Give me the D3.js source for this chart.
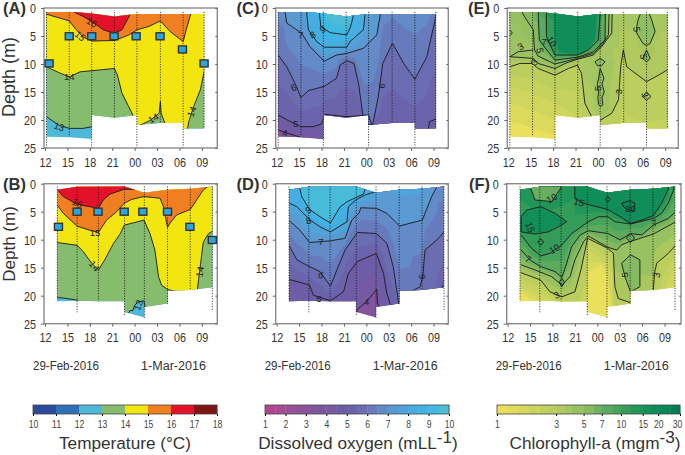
<!DOCTYPE html>
<html>
<head>
<meta charset="utf-8">
<script src="https://cdnjs.cloudflare.com/ajax/libs/d3/7.8.5/d3.min.js"></script>
<style>
body { margin: 0; background: #fff; }
text { font-family: "Liberation Sans", Arial, sans-serif; fill: #333; }
</style>
</head>
<body>
<svg id="chart" width="685" height="455"></svg>
<script>
// hours run on from 12 (00 = 24, 09 = 33)
var hourTicks = [12, 15, 18, 21, 24, 27, 30, 33];
var depthTicks = [0, 5, 10, 15, 20, 25];

// cast times and how far each dotted line goes
var stationsAE = [12.2, 15.25, 18.25, 21.3, 24.3, 27.45, 30.5, 33.3];
var stationEndAE = [25, 23, 25, 19.5, 25, 20.5, 25, 21.5];
var stationsBF = [13.65, 16.3, 19.15, 22.65, 25.3, 28.4, 31.45, 34.4];
var stationEndBF = [21, 23, 21, 23.5, 24, 21.5, 19, 22.5];

// sampled water column outline, [hour, depth]
var topAE = [[12.2, .7], [16, .7], [18.25, 1], [21.3, 1.5], [23.3, 1.2], [24.3, 1.05], [33.3, 1.05]];
var bottomAE = [[12.2, 23], [15.25, 23.1], [18.25, 23.4], [18.25, 19.1], [21.3, 19.6], [24.3, 19.1], [24.3, 20.9], [27.45, 20.55], [30.5, 20.55], [30.5, 21.5], [33.3, 21.5]];
var topBF = [[13.65, 1.1], [16.3, .55], [22.65, .5], [25.3, 1.6], [28.4, 1.1], [31.45, .9], [34.4, .5]];
var bottomBF = [[13.65, 21], [16.3, 20.9], [19.15, 21], [22.65, 21], [22.65, 22.9], [25.3, 23.9], [25.3, 22], [28.4, 21.4], [28.4, 19.1], [31.45, 19], [34.4, 18.5]];

// thermistor squares, [hour, depth]
var loggersA = [[12.55, 9.9], [15.25, 5.05], [18.25, 5.05], [21.25, 5.05], [24.2, 5.05], [27.4, 5.05], [30.4, 7.4], [33.3, 9.9]];
var loggersB = [[13.8, 7.7], [16.3, 5], [19.1, 5], [22.6, 5], [25.1, 5], [28.4, 5], [31.4, 7.7], [34.4, 10.05]];

// temperature contours, panel A
var a13 = [[12.2, 19.4], [13.8, 20.9], [15.25, 21.5], [17.1, 21.5], [18.25, 21.2], [18.7, 22.4], [20, 30]];
var a14 = [[12.2, 10.5], [13.8, 11.5], [15.25, 12.3], [16.7, 11.4], [18.25, 11.2], [21.3, 10.8], [21.7, 12], [22.3, 15.2], [23.2, 17.6], [23.75, 19.1], [24.3, 21.2], [26.05, 20.1], [27, 19.1], [27.3, 18.7], [27.45, 16.7], [27.55, 18.8], [28.05, 20.6], [29.2, 22.4], [31, 22.1], [31.25, 20.3], [31.9, 17.6], [32.8, 14.6], [33.3, 11.4], [33.9, 7.5]];
var a15 = [[11.8, 1], [12.2, 1.1], [15.25, 2.3], [16, 3.6], [17.1, 5.2], [18.25, 5.9], [21.3, 5.8], [22.5, 5.2], [23.4, 4.7], [24.3, 3.9], [25.9, 3.3], [27.45, 2.3], [28.75, 4.2], [30.5, 6], [30.9, 3.9], [31.5, 1.1], [31.9, -.2], [35, -3]];
var a16 = [[12, -3], [14.9, -.5], [16, .8], [17.1, 1.5], [18.25, 2.4], [19.8, 3.9], [21.3, 4.5], [22.3, 3.9], [23.3, 1.4], [23.6, -.2], [24, -3]];

// temperature contours, panel B
var b13 = [[13.65, 20.3], [14.9, 20.5], [16.3, 20.8], [16.8, 21.4], [17.3, 26], [22, 26], [23.4, 22.6], [23.75, 22.7], [24, 21.7], [24.5, 21.1], [25.25, 20.9], [25.4, 22.1], [25.6, 26]];
var b14 = [[13.65, 10.5], [16.3, 11], [17.1, 12.1], [18.25, 14.2], [19.15, 15.4], [20, 13.6], [21.15, 10.7], [22.1, 8.9], [22.6, 7.4], [23.8, 7], [25.25, 6.5], [26.05, 8.9], [26.7, 11.8], [27.2, 16.6], [27.6, 18.1], [28.4, 18.9], [29.75, 19.3], [32.2, 19.5], [32.4, 18.9], [33, 12.4], [33.2, 10.4], [33.9, 8.9], [34.4, 8.5]];
var b15 = [[13.65, 3.8], [14.45, 5.3], [16.3, 7.6], [18, 8.3], [19.15, 8.7], [20.25, 6.5], [21.6, 5], [22.6, 3.5], [23.6, 2.8], [25.25, 2.3], [27.4, 2.6], [27.85, 4.1], [28.4, 7.8], [28.7, 7.1], [29.6, 5.6], [31.45, 4.6], [32.3, 2.9], [33.2, 1.1], [33.9, .4], [34.4, -.1]];
var b16 = [[13.6, 1], [14.45, 2.3], [16.3, 3.7], [19.15, 4.4], [19.8, 2.9], [20.7, 1.85], [22.6, 1], [24, 1], [25, -.3], [26, -3]];

// dissolved oxygen contours, panel C
var c4 = [[12.2, 21.8], [13.55, 22.4], [15.25, 23.1], [16.9, 23.9], [18.5, 28], [35, 28]];
var c5 = [[12.2, 19.1], [13.55, 20.1], [15.25, 21.2], [16.9, 21.2], [18, 20.7], [18.45, 19], [21.4, 19.4], [24.3, 19.1], [24.7, 20.7], [25.4, 22.4], [31.65, 22.4], [32.3, 21.7], [32.45, 20.3], [33.35, 19.8]];
var c6 = [[12.2, 8.4], [13.35, 10.5], [14.45, 13.45], [15.25, 16], [16.25, 14.75], [18.35, 14], [20, 12.55], [20.5, 10.2], [21.4, 9.4], [22.35, 9.9], [22.95, 13.45], [23.5, 18.8], [23.85, 20.6], [24.85, 20.9], [25.6, 15.8], [26.2, 9.9], [27.5, 6.3], [29, 9.9], [30.5, 12.7], [32.1, 8.7], [33.35, 1.25], [33.65, -.2]];
var c7 = [[13, -3], [13.1, .65], [13.35, 2.7], [15.35, 4.5], [16.45, 6.9], [18.35, 9.5], [20, 8.4], [21.4, 8.1], [23.6, 7.2], [25.4, 4.8], [25.9, .95], [26.1, -3]];
var c8 = [[15.8, -3], [16, .65], [16.25, 3.9], [17.35, 6], [18.35, 7], [21.4, 7], [21.8, 6], [23.6, 3.9], [23.85, .95], [24, -3]];
var c9 = [[17.3, -3], [17.7, .65], [17.9, 3.3], [19.15, 4.4], [21.4, 4.8], [21.9, 3.3], [22.35, .95], [22.6, -3]];
var c95 = [[18.3, -3], [18.5, .4], [19.15, 2.1], [21.4, 3.2], [21.9, 2.1], [22.3, .4], [22.5, -3]];

// dissolved oxygen contours, panel D
var d4 = [[22, 28], [22.8, 22.45], [24.05, 21.05], [25.4, 18.85], [25.5, 21.35], [25.75, 22.25], [26, 28]];
var d5 = [[13.7, 17.1], [16.4, 18.1], [16.9, 19.9], [19.2, 20.9], [20.95, 19.3], [21.6, 16], [22.8, 13.9], [25.35, 12.45], [26.3, 16], [26.75, 19.6], [27.25, 21.65], [28.05, 23.15], [29, 28], [33, 28], [33.65, 22.55], [34.25, 18.1]];
var d6 = [[13.7, 11.1], [14.7, 13.6], [16.4, 14.8], [17.8, 15.7], [19.2, 18.3], [20.05, 15.4], [21.15, 11.85], [22.8, 8.7], [25.35, 8.9], [26.75, 10.65], [27.6, 14.8], [28.2, 20.2], [28.5, 23.15], [29.85, 22.55], [30.2, 19.1], [31.2, 18.4], [31.55, 16.6], [31.85, 11.85], [33.45, 10.05], [34.4, 8.6]];
var d7 = [[13.7, 6.6], [15.1, 8.3], [16.4, 10.5], [19.2, 10.2], [21.15, 9.75], [22.05, 6.5], [23.05, 5.2], [23.25, 4.3], [25.35, 4.4], [26.75, 5.3], [28.45, 7.55], [31.5, 6.5], [32.75, 2.3], [33.45, .55], [33.6, -3]];
var d8 = [[13.7, 3.5], [14.7, 4.1], [16.4, 6.4], [17.8, 7.7], [19.2, 8.6], [21.4, 6.8], [21.6, 4.1], [22.7, 2.8], [23.85, 2], [25.3, 1.4], [25.85, .5], [26, -3]];
var d9 = [[14.9, -3], [15.05, .55], [15.35, 2.3], [16.4, 4.6], [17.8, 5.9], [19.2, 7], [20.5, 4.1], [21.45, 3.2], [23.6, 1.85], [23.85, .85], [24, -3]];

// chlorophyll contours, panel E (solid lines)
var e3 = [[12.2, 10.5], [13.55, 9.9], [15.2, 9.9], [16, 10.8], [18.25, 12], [20.05, 10.8], [21.25, 10.2], [21.8, 11.65], [22.25, 17], [23.15, 19.4], [24.25, 20.1], [25.85, 18.8], [26.75, 16.4], [27.05, 10.5], [27.4, 7.5], [27.85, 10.5], [30.5, 13.15], [32.1, 12], [33.3, 11.05]];
var e4 = [[12.2, 8.7], [15.35, 9], [16, 9.9], [18.25, 10.8], [19.6, 9.9], [21.25, 9.15], [23.4, 8.4], [24.5, 6.9], [25.85, 4.5], [25.9, .95], [26, -3]];
var e5 = [[13.7, -3], [13.8, .65], [14.45, 2.15], [15.35, 3.9], [15.5, 7.5], [16, 8.6], [18.25, 10], [21.25, 9], [23.4, 8.1], [24.6, 6.5], [25.4, 4.8], [25.5, .95], [25.6, -3]];
var e7 = [[15.9, -3], [16, .95], [16.15, 5.7], [17.15, 7.5], [18.25, 9.3], [21.25, 8.8], [23.4, 7.8], [24.95, 5.7], [25, .95], [25.1, -3]];
var e10 = [[16.9, -3], [17.1, .95], [17.1, 5.1], [18.25, 8.4], [21.25, 8.4], [22.7, 7.5], [24.05, 5.7], [24.3, .95], [24.4, -3]];
// shade limits that carry no line
var e13 = [[12.2, 20.3], [13.35, 20.5], [15.2, 21.5], [18.25, 22.7], [19, 28]];
var e2 = [[12.2, 14], [15.2, 15.25], [18.25, 17], [21.25, 19.4], [22, 28], [35, 28]];
var e15 = [[18, -3], [18.1, .9], [18.2, 5], [18.8, 7.8], [21.25, 8.3], [22.7, 7.3], [23.7, 5], [23.8, .9], [24, -3]];

// closed patches in E
var eColumnOuter = [[23, 9], [25.5, 9], [26.3, 9], [25.7, 13], [25.5, 18], [24.4, 19.8], [23.5, 18], [23.3, 14]];
var eTopRightOuter = [[28.6, 1], [29, 5], [30, 9], [30.5, 11], [31, 9], [32.3, 5], [32, 1]];
var eLens = [[29.2, 3.3], [29.2, 4.5], [30, 6.3], [30.5, 6.7], [31, 6.3], [31.65, 4.2], [31.2, 2.15], [30.8, .8], [29.75, .8], [29.4, 2]];
var eChainTop = [[30.5, 7.5], [31, 9], [30.5, 9.6], [30, 9]];
var eDiamondLow = [[30.5, 15], [31.1, 15.8], [30.5, 16.5], [30, 15.8]];
var eDiamondMid = [[23.6, 9.6], [24.3, 9], [24.95, 9.6], [24.5, 10.3], [23.95, 10.3]];
var eColumn = [[24.3, 10.8], [24.8, 12.5], [24.55, 13.6], [24.85, 15], [24.55, 16], [24.65, 17.3], [24.4, 17.6], [24.1, 17.3], [24, 16], [24.1, 15], [23.9, 13.6], [24.1, 12.5]];
var eWedge = [[12.2, 8.7], [13.35, 7.8], [15.35, 7.5]];
var eNick = [[12.2, 3.9], [12.55, 4.5], [12.2, 4.9]];

// chlorophyll contours, panel F
var f3 = [[13.8, 15.9], [16.4, 17.2], [17.65, 19.3], [19.25, 20.2], [21, 19.3], [21.8, 15.4], [22.7, 9.75], [25.4, 11.55], [26.15, 12.45], [26.35, 18.4], [26.8, 20.5], [28.45, 21.25], [31.3, 24], [31.5, 19], [31.65, 16], [31.95, 14.2], [33.5, 12.45], [34.5, 10.95]];
var f5 = [[13.8, 14.5], [15.65, 15.4], [17.9, 16.6], [19.25, 18.1], [20.35, 16.6], [21, 13.6], [22.15, 10.35], [22.8, 9.35], [25.4, 11.35], [26.6, 11.85], [27.25, 10.9], [28.45, 10.3], [31.5, 9], [34.5, 6.8]];
var f7 = [[13.8, 11.85], [15, 13.65], [16.4, 14.8], [18.35, 15.7], [19.25, 16.7], [19.9, 14.2], [20.55, 11.25], [21.7, 9.15], [22.8, 8.4], [25.4, 8.9], [27.05, 10.05], [28.45, 8.9], [29.95, 9.15], [31.5, 7.4], [33.5, 6.2], [34.5, 5]];
var f10 = [[13.8, 9.15], [15.2, 11.55], [16.4, 12.9], [17.65, 12.45], [19.25, 10.95], [20.55, 8.9], [22.8, 6.8], [24.15, 5.9], [25.4, 5.9], [26.35, 6.8], [28.45, 7.2], [31.5, 6.2], [32.6, 5.3], [33.5, 3.5], [34.2, 1.1], [34.4, -3]];
var f15 = [[20.95, -3], [21, 2.6], [22.15, 3.5], [25.4, 4.6], [27.2, 6], [28.45, 7.1], [29.95, 6.5], [31.5, 5.7], [32.6, 3.5], [33.5, 1], [33.7, -3]];
var f13 = [[13.8, 19.5], [16, 21.5], [16.5, 28], [22.6, 28], [22.75, 16], [24.5, 14.5], [25.4, 17], [25.7, 22], [26, 28]];
var f2 = [[13.8, 18.1], [16.4, 19.6], [18.35, 21], [19, 28], [22.5, 24], [22.75, 12], [24, 13], [25.4, 14.5], [26, 16], [26.1, 22], [26.2, 28], [31.9, 28], [33, 19], [34.5, 14]];
var fBlobLeft = [[13.8, 5.9], [14.55, 4.7], [16.4, 4.1], [18.35, 5.3], [19.9, 6.8], [18.8, 7.7], [17.45, 8.6], [15.65, 9], [13.8, 8.6]];
var fDeep = [[27.25, 3.5], [28.4, 3], [29.05, 3.5], [28.85, 5], [27.7, 4.4]];
var fPale = [[15, .5], [15.65, 2.9], [17.9, 3.2], [19.25, .5]];
var fLens = [[27.25, 14.2], [28.45, 12.7], [29.7, 13.6], [29.7, 18.4], [28.45, 19.3], [27.7, 16.6]];
var fDiamondA = [[16.4, 9.8], [16.8, 10.4], [16.4, 11], [16, 10.4]];
var fDiamondB = [[28.45, 8.9], [29, 9.7], [28.45, 10.5], [27.9, 9.7]];
var fDiamondC = [[19.25, 16.9], [19.6, 17.6], [19.25, 18.4], [18.9, 17.6]];
var fDiamondD = [[25.4, 2.3], [25.7, 2.8], [25.4, 3.3], [25.1, 2.8]];

// colour bars
var tempTicks = [10, 11, 12, 13, 14, 15, 16, 17, 18];
var tempColors = ["#2b4a9b", "#3070b8", "#4db8d8", "#86bc6e", "#f2e510", "#f07f21", "#e5112a", "#7e1416"];
var oxyTicks = [1, 2, 3, 4, 5, 6, 7, 8, 9, 10];
var oxyColors = ["#b3458f", "#9f4f94", "#8a539b", "#7a57a1", "#6b5ea7", "#6a72b6", "#5f93cc", "#49a9df", "#3bb7e5", "#55bfcf"];
var chlTicks = [1, 3, 5, 7, 10, 15, 20, 30];
var chlColors = ["#f0e25c", "#b6cc5e", "#90bf62", "#68ae60", "#3fa05a", "#189357", "#0a8a5a", "#007a54"];
var chlCells = [1, 1.2, 1.5, 1.8, 2.2, 2.6, 3, 3.5, 4, 5, 6, 7, 8.5, 10, 12, 15, 17.5, 20, 25, 30];

var tempColor = d3.scaleThreshold().domain(tempTicks.slice(1, -1)).range(tempColors);
var oxyColor = d3.scaleLinear().domain(oxyTicks).range(oxyColors);
var chlColor = d3.scaleLog().domain(chlTicks).range(chlColors);

var svg = d3.select("#chart");
var line = d3.line();

// the reference type is narrow, so squeeze tick text to its width
function squeeze(sel, perChar) {
    sel.attr("textLength", function() { return this.textContent.length * perChar; })
        .attr("lengthAdjust", "spacingAndGlyphs");
}

function drawPanel(p) {
    var x = d3.scaleLinear().domain([12, 35]).range([p.x12, p.x12 + 171.8]);
    var y = d3.scaleLinear().domain([0, 25]).range([p.y0, p.y0 + 140]);
    var g = svg.append("g");
    var toXY = function(d) { return [x(d[0]), y(d[1])]; };

    // outline of sampled water, also the clip for everything inside it
    var outline = p.top.concat(p.bottom.slice().reverse());
    g.append("clipPath").attr("id", "clip" + p.name)
        .append("path").attr("d", line(outline.map(toXY)) + "Z");
    var inside = g.append("g").attr("clip-path", "url(#clip" + p.name + ")");
    inside.append("rect").attr("x", p.x12 - 5).attr("y", p.y0 - 5)
        .attr("width", 190).attr("height", 150).attr("fill", p.color(p.base));

    // shading between neighbouring contours
    var fillArea = d3.area().x(function(d) { return x(d[0]); })
        .y0(y(-6)).y1(function(d) { return y(d[1]); });
    var levels = p.lines.concat(p.shades).sort(function(a, b) { return a.level - b.level; });
    levels.forEach(function(l, i) {
        var next = levels[i + 1];
        var upper = next ? next.level : l.level + (l.level - levels[i - 1].level);
        var n = next ? p.sub : 1;
        for (var k = 0; k < n; k++) {
            var pts = l.pts;
            if (k > 0) {
                var hrs = d3.merge([l.pts, next.pts]).map(function(d) { return d[0]; }).sort(d3.ascending);
                var s0 = d3.scaleLinear().domain(l.pts.map(function(d) { return d[0]; })).range(l.pts.map(function(d) { return d[1]; })).clamp(true);
                var s1 = d3.scaleLinear().domain(next.pts.map(function(d) { return d[0]; })).range(next.pts.map(function(d) { return d[1]; })).clamp(true);
                pts = hrs.map(function(h) { return [h, s0(h) + (s1(h) - s0(h)) * k / n]; });
            }
            var v = l.level + (upper - l.level) * (k + 0.5) / n;
            var first = pts[0], last = pts[pts.length - 1];
            inside.append("path")
                .attr("d", fillArea([[5, first[1]]].concat(pts, [[40, last[1]]])))
                .attr("fill", p.color(v));
        }
    });

    (p.patches || []).forEach(function(b) {
        inside.append("path").attr("d", line(b.pts.map(toXY)) + "Z")
            .attr("fill", p.color(b.level))
            .attr("stroke", b.stroke ? "#1a1a1a" : "none").attr("stroke-width", 0.9);
    });

    p.lines.forEach(function(l) {
        inside.append("path").attr("d", line(l.pts.map(toXY)))
            .attr("fill", "none").attr("stroke", "#1a1a1a").attr("stroke-width", 0.9);
    });
    (p.extra || []).forEach(function(pts) {
        inside.append("path").attr("d", line(pts.map(toXY)))
            .attr("fill", "none").attr("stroke", "#1a1a1a").attr("stroke-width", 0.9);
    });

    p.labels.forEach(function(t) {
        g.append("text").text(t[0])
            .attr("transform", "translate(" + x(t[1]) + "," + y(t[2]) + ") rotate(" + t[3] + ")")
            .attr("text-anchor", "middle").attr("dy", "0.35em")
            .attr("font-size", 9.5).style("fill", "#222");
    });

    // stations
    p.stations.forEach(function(h, i) {
        g.append("line").attr("x1", x(h)).attr("x2", x(h))
            .attr("y1", y(p.stationTop)).attr("y2", y(p.stationEnd[i]))
            .attr("stroke", "#111").attr("stroke-width", 0.9).attr("stroke-dasharray", "1,1.6");
    });

    // frame and axes
    g.append("rect").attr("x", p.x12 - 1).attr("y", p.y0)
        .attr("width", p.right - p.x12 + 1).attr("height", 140)
        .attr("fill", "none").attr("stroke", "#8a8a8a").attr("stroke-width", 1.4);
    var xAxis = g.append("g").attr("transform", "translate(0," + (p.y0 + 140) + ")")
        .call(d3.axisBottom(x).tickValues(hourTicks).tickSize(3).tickPadding(6)
            .tickFormat(function(h) { return d3.format("02")(h % 24); }));
    var yAxis = g.append("g").attr("transform", "translate(" + (p.x12 - 1) + ",0)")
        .call(d3.axisLeft(y).tickValues(depthTicks).tickSize(3).tickPadding(5));
    var yRight = g.append("g").attr("transform", "translate(" + p.right + ",0)")
        .call(d3.axisLeft(y).tickValues(depthTicks).tickSize(2).tickFormat(""));
    [xAxis, yAxis, yRight].forEach(function(a) {
        a.select(".domain").remove();
        a.selectAll("line").attr("stroke", "#666");
        a.selectAll("text").attr("font-size", 13.5).style("fill", "#333")
            .style("font-family", "'Liberation Sans', Arial, sans-serif")
            .call(squeeze, 6);
    });

    g.append("text").text("(" + p.name + ")")
        .attr("x", p.tagX).attr("y", p.y0 + 6).attr("font-size", 16.5).attr("font-weight", "bold");

    if (p.loggers) {
        g.selectAll(".logger").data(p.loggers).enter().append("rect")
            .attr("x", function(d) { return x(d[0]) - 4; })
            .attr("y", function(d) { return y(d[1]) - 3.5; })
            .attr("width", 8).attr("height", 7)
            .attr("fill", "#2ba6de").attr("stroke", "#333").attr("stroke-width", 1.4);
    }
    if (p.ylabel) {
        g.append("text").text("Depth (m)")
            .attr("transform", "translate(15," + p.ylabel[0] + ") rotate(-90)")
            .attr("text-anchor", "middle").attr("font-size", p.ylabel[1]);
    }
    if (p.dates) {
        g.append("text").text("29-Feb-2016").attr("x", p.x12 + 21).attr("y", 370)
            .attr("text-anchor", "middle").attr("font-size", 12.5)
            .attr("textLength", 66).attr("lengthAdjust", "spacingAndGlyphs");
        g.append("text").text("1-Mar-2016").attr("x", p.x12 + 128.5).attr("y", 370)
            .attr("text-anchor", "middle").attr("font-size", 12.5)
            .attr("textLength", 65).attr("lengthAdjust", "spacingAndGlyphs");
    }
}

function levelSet(levels, arrays) {
    return levels.map(function(l, i) { return { level: l, pts: arrays[i] }; });
}

drawPanel({ name: "A", x12: 45, y0: 8, right: 217.3, tagX: 3, ylabel: [77, 18], stationTop: .7,
    stations: stationsAE, stationEnd: stationEndAE, top: topAE, bottom: bottomAE, loggers: loggersA,
    color: tempColor, base: 12.5, sub: 1, shades: [],
    lines: levelSet([13, 14, 15, 16], [a13, a14, a15, a16]),
    labels: [["16", 18.25, 2.6, 30], ["15", 16.7, 5, 40], ["14", 15.25, 12.3, 0], ["13", 13.9, 21.2, 20], ["14", 26.5, 19.7, -30], ["14", 31.65, 18.5, -70]] });

drawPanel({ name: "B", x12: 45, y0: 183.7, right: 217.3, tagX: 3, ylabel: [244, 17], dates: true, stationTop: .5,
    stations: stationsBF, stationEnd: stationEndBF, top: topBF, bottom: bottomBF, loggers: loggersB,
    color: tempColor, base: 12.5, sub: 1, shades: [],
    lines: levelSet([13, 14, 15, 16], [b13, b14, b15, b16]),
    labels: [["16", 16.3, 3.5, 25], ["15", 18.7, 8.7, 0], ["14", 18.6, 14.7, 50], ["13", 24.5, 21.7, -70], ["14", 32.75, 15.7, -80]] });

drawPanel({ name: "C", x12: 276.7, y0: 8, right: 448.3, tagX: 236.5, stationTop: .7,
    stations: stationsAE, stationEnd: stationEndAE, top: topAE, bottom: bottomAE,
    color: oxyColor, base: 3.5, sub: 2,
    lines: levelSet([4, 5, 6, 7, 8, 9], [c4, c5, c6, c7, c8, c9]),
    shades: levelSet([9.5], [c95]),
    labels: [["9", 18.15, 3.8, -30], ["8", 16.8, 4.8, -30], ["7", 15.2, 4.8, 0], ["6", 14.25, 14.2, -20], ["6", 26.05, 13.9, -90], ["5", 14.55, 20.6, 0], ["4", 13.1, 22.3, 0]] });

drawPanel({ name: "D", x12: 276.7, y0: 183.7, right: 448.3, tagX: 236.5, dates: true, stationTop: .5,
    stations: stationsBF, stationEnd: stationEndBF, top: topBF, bottom: bottomBF,
    color: oxyColor, base: 3.5, sub: 2,
    lines: levelSet([4, 5, 6, 7, 8, 9], [d4, d5, d6, d7, d8, d9]), shades: [],
    labels: [["9", 16.25, 4.7, -30], ["8", 16.25, 6.6, -15], ["7", 17.9, 10.35, 0], ["6", 17.9, 16.3, 20], ["6", 31.4, 16.6, -90], ["5", 17.65, 20.5, 0], ["4", 24.05, 21.05, 0]] });

drawPanel({ name: "E", x12: 508.3, y0: 8, right: 678.3, tagX: 468, stationTop: .7,
    stations: stationsAE, stationEnd: stationEndAE, top: topAE, bottom: bottomAE,
    color: chlColor, base: 1.1, sub: 2,
    lines: levelSet([3, 4, 5, 7, 10], [e3, e4, e5, e7, e10]),
    shades: levelSet([1.3, 2, 15], [e13, e2, e15]),
    patches: [{ level: 3.8, pts: eColumnOuter }, { level: 3.6, pts: eTopRightOuter },
        { level: 5, pts: eLens, stroke: true }, { level: 5, pts: eChainTop, stroke: true }, { level: 3.4, pts: eDiamondLow, stroke: true },
        { level: 5, pts: eDiamondMid, stroke: true }, { level: 5, pts: eColumn, stroke: true }],
    extra: [eWedge, eNick],
    labels: [["10", 17.8, 6, 60], ["7", 16.8, 6, 0], ["5", 16.25, 7.6, 80], ["3", 13.65, 6.9, -30], ["3", 15.45, 9.7, -60], ["5", 23.95, 14.35, -90], ["5", 29.2, 3.8, 80], ["5", 30.1, 8.7, 80], ["3", 26.75, 14.95, -90], ["3", 30.3, 15.5, 70]] });

drawPanel({ name: "F", x12: 507.7, y0: 183.7, right: 681, tagX: 469, dates: true, stationTop: .5,
    stations: stationsBF, stationEnd: stationEndBF, top: topBF, bottom: bottomBF,
    color: chlColor, base: 1.1, sub: 2,
    lines: levelSet([3, 5, 7, 10, 15], [f3, f5, f7, f10, f15]),
    shades: levelSet([1.3, 2], [f13, f2]),
    patches: [{ level: 17, pts: fBlobLeft, stroke: true }, { level: 22, pts: fDeep, stroke: true }, { level: 7, pts: fPale, stroke: true },
        { level: 5.5, pts: fLens, stroke: true }, { level: 12, pts: fDiamondA, stroke: true }, { level: 7, pts: fDiamondB, stroke: true },
        { level: 7, pts: fDiamondC, stroke: true }, { level: 17, pts: fDiamondD, stroke: true }],
    labels: [["10", 17.9, 2.6, -30], ["15", 21.55, 3.3, 15], ["20", 28.45, 4.4, 0], ["15", 15, 7.8, 70], ["10", 18.25, 11.65, -30], ["7", 14.75, 13.5, 30], ["7", 31.65, 7, -20], ["5", 27.7, 16.3, -90], ["3", 31.95, 16.3, -80], ["3", 18.55, 19.9, -30]] });

// colour bars under the panels
function drawBar(left, width, scale, cells, color, ticks) {
    var g = svg.append("g");
    d3.pairs(cells).forEach(function(c) {
        g.append("rect").attr("x", scale(c[0])).attr("y", 405)
            .attr("width", scale(c[1]) - scale(c[0]) + 0.3).attr("height", 9)
            .attr("fill", color(Math.sqrt(c[0] * c[1])));
    });
    g.append("rect").attr("x", left).attr("y", 405).attr("width", width).attr("height", 9)
        .attr("fill", "none").attr("stroke", "#444").attr("stroke-width", 0.8);
    var axis = g.append("g").attr("transform", "translate(0,414)")
        .call(d3.axisBottom(scale).tickValues(ticks).tickFormat(d3.format("d")).tickSize(2).tickPadding(4));
    axis.select(".domain").remove();
    axis.selectAll("text").attr("font-size", 11).style("fill", "#444")
        .style("font-family", "'Liberation Sans', Arial, sans-serif")
        .call(squeeze, 4.8);
    return axis;
}
drawBar(33, 184, d3.scaleLinear().domain([10, 18]).range([33, 217]), tempTicks, tempColor, tempTicks);
drawBar(265, 184, d3.scaleLinear().domain([1, 10]).range([265, 449]), d3.range(1, 10.5, 0.5), oxyColor, oxyTicks);
// last label sits left of its tick so it stays on the page
drawBar(497, 183, d3.scaleLog().domain([1, 30]).range([497, 680]), chlCells, chlColor, chlTicks)
    .selectAll("text").filter(function(d) { return d === 30; }).attr("dx", -3);

function barTitle(cx, main, sup, tail) {
    var t = svg.append("text").attr("x", cx).attr("y", 449).attr("text-anchor", "middle").attr("font-size", 17.2);
    t.append("tspan").text(main);
    if (sup) {
        t.append("tspan").text(sup).attr("dy", -6);
        t.append("tspan").text(tail).attr("dy", 6);
    }
}
barTitle(125, "Temperature (°C)");
barTitle(358, "Dissolved oxygen (mLL", "-1", ")");
barTitle(595, "Chlorophyll-a (mgm", "-3", ")");
</script>
</body>
</html>
